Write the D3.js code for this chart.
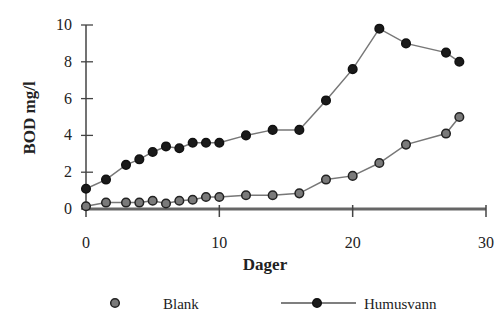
<!DOCTYPE html>
<html>
<head>
<meta charset="utf-8">
<script src="https://cdn.jsdelivr.net/npm/d3@7"></script>
<style>
  body { margin: 0; background: #fff; }
  svg text { font-family: "Liberation Serif", "DejaVu Serif", serif; fill: #222; }
</style>
</head>
<body>
<div id="chart"></div>
<script>
// days sampled
var days = [0, 1.5, 3, 4, 5, 6, 7, 8, 9, 10, 12, 14, 16, 18, 20, 22, 24, 27, 28];
// BOD mg/l
var humusvann = [1.1, 1.6, 2.4, 2.7, 3.1, 3.4, 3.3, 3.6, 3.6, 3.6, 4.0, 4.3, 4.3, 5.9, 7.6, 9.8, 9.0, 8.5, 8.0];
var blank = [0.15, 0.35, 0.35, 0.35, 0.45, 0.3, 0.45, 0.5, 0.65, 0.65, 0.75, 0.75, 0.85, 1.6, 1.8, 2.5, 3.5, 4.1, 5.0];
var xTicks = [0, 10, 20, 30];
var yTicks = [0, 2, 4, 6, 8, 10];

var width = 500, height = 314;
var svg = d3.select("#chart").append("svg")
    .attr("width", width)
    .attr("height", height);

var x = d3.scaleLinear().domain([0, 30]).range([86, 486]);
var y = d3.scaleLinear().domain([0, 10]).range([209, 25]);

// y axis
var yAxis = svg.append("g").attr("transform", "translate(" + x(0) + ",0)");
yAxis.append("line")
    .attr("y1", y(0)).attr("y2", y(10))
    .attr("stroke", "#444").attr("stroke-width", 1.5);
yAxis.selectAll(".yt").data(yTicks).enter().append("line")
    .attr("x1", -5).attr("x2", 7)
    .attr("y1", d => y(d)).attr("y2", d => y(d))
    .attr("stroke", "#444").attr("stroke-width", 1.3);
yAxis.selectAll(".yl").data(yTicks).enter().append("text")
    .attr("x", -14).attr("y", d => y(d) + 5)
    .attr("text-anchor", "end")
    .attr("font-size", 16)
    .text(d => d);

// x axis
var xAxis = svg.append("g").attr("transform", "translate(0," + y(0) + ")");
xAxis.append("line")
    .attr("x1", x(0)).attr("x2", x(30))
    .attr("stroke", "#666").attr("stroke-width", 3);
xAxis.selectAll(".xt").data(xTicks).enter().append("line")
    .attr("x1", d => x(d)).attr("x2", d => x(d))
    .attr("y1", -4).attr("y2", 8)
    .attr("stroke", "#444").attr("stroke-width", 1.5);
xAxis.selectAll(".xl").data(xTicks).enter().append("text")
    .attr("x", d => x(d)).attr("y", 39)
    .attr("text-anchor", "middle")
    .attr("font-size", 16)
    .text(d => d);

// axis titles
svg.append("text")
    .attr("x", 265).attr("y", 270)
    .attr("text-anchor", "middle")
    .attr("font-size", 17).attr("font-weight", "bold")
    .text("Dager");
svg.append("text")
    .attr("transform", "translate(35,118) rotate(-90)")
    .attr("text-anchor", "middle")
    .attr("font-size", 17).attr("font-weight", "bold")
    .text("BOD mg/l");

var line = d3.line().x(d => x(d[0])).y(d => y(d[1]));

function drawSeries(vals, fill, stroke) {
    var pts = days.map((d, i) => [d, vals[i]]);
    svg.append("path")
        .datum(pts)
        .attr("d", line)
        .attr("fill", "none")
        .attr("stroke", "#777")
        .attr("stroke-width", 1.5);
    svg.selectAll(null).data(pts).enter().append("circle")
        .attr("cx", d => x(d[0]))
        .attr("cy", d => y(d[1]))
        .attr("r", 4.3)
        .attr("fill", fill)
        .attr("stroke", stroke)
        .attr("stroke-width", 1.5);
}

drawSeries(blank, "#7a7a7a", "#222");
drawSeries(humusvann, "#1a1a1a", "#111");

// legend
var lg = svg.append("g");
lg.append("circle").attr("cx", 115).attr("cy", 303).attr("r", 4.3)
    .attr("fill", "#7a7a7a").attr("stroke", "#222").attr("stroke-width", 1.5);
lg.append("text").attr("x", 163).attr("y", 309).attr("font-size", 15).text("Blank");
lg.append("line").attr("x1", 281).attr("x2", 356).attr("y1", 303).attr("y2", 303)
    .attr("stroke", "#555").attr("stroke-width", 1.5);
lg.append("circle").attr("cx", 317).attr("cy", 303).attr("r", 4.3)
    .attr("fill", "#1a1a1a").attr("stroke", "#111").attr("stroke-width", 1.5);
lg.append("text").attr("x", 364).attr("y", 309).attr("font-size", 15).text("Humusvann");
</script>
</body>
</html>
